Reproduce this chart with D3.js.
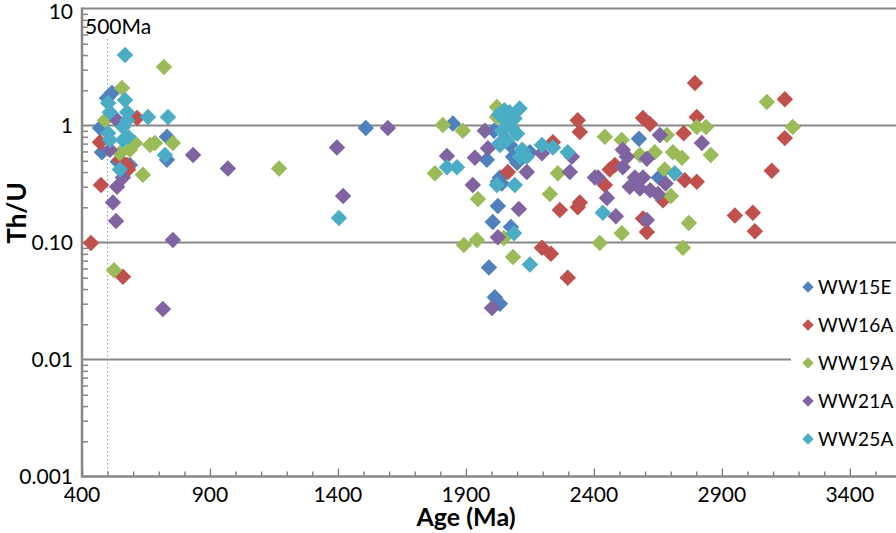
<!DOCTYPE html>
<html><head><meta charset="utf-8">
<script src="https://cdn.jsdelivr.net/npm/d3@7/dist/d3.min.js"></script>
<style>
html,body{margin:0;padding:0;background:#fff;overflow:hidden}
text{font-family:Lato,"Liberation Sans",sans-serif;fill:#000}
</style></head>
<body><svg id="c" width="896" height="533"></svg>
<script>
const seriesNames = ["WW15E","WW16A","WW19A","WW21A","WW25A"];
const seriesColors = ["#4F81BD","#C0504D","#9BBB59","#8064A2","#4BACC6"];
const xTicks = [400,900,1400,1900,2400,2900,3400];
const yTicks = [10,1,0.1,0.01,0.001];
const yTickLabels = ["10","1","0.10","0.01","0.001"];

const ww15e = [[498,1.72],[517,1.90],[470,0.95],[478,0.59],[732,0.80],[732,0.51],[587,0.46],[540,0.49],
 [1509,0.95],[1849,1.04],[1982,0.51],[2033,0.36],[2025,0.205],[2005,0.15],[2076,0.136],[1990,0.061],
 [2013,0.034],[2033,0.030],[2576,0.77],[2654,0.36],[2084,0.54],[2025,0.33],[2150,0.59],[2072,0.68],
 [2010,0.9],[2100,0.48],[2040,0.32]];
const ww16a = [[435,0.099],[474,0.31],[470,0.72],[615,1.16],[548,0.51],[580,0.42],[560,0.051],[576,0.46],
 [2064,0.40],[2240,0.72],[2337,1.11],[2345,0.88],[2197,0.09],[2232,0.08],[2298,0.05],[2267,0.19],
 [2345,0.22],[2337,0.20],[2795,2.31],[3146,1.68],[3146,0.78],[3095,0.41],[2592,1.16],[2619,1.03],
 [2751,0.86],[2802,1.18],[2462,0.42],[2482,0.46],[2755,0.34],[2802,0.33],[2443,0.31],[2670,0.23],
 [2592,0.16],[2607,0.123],[2951,0.17],[3021,0.18],[3029,0.125]];
const ww19a = [[720,3.16],[556,2.09],[490,1.11],[755,0.71],[666,0.68],[685,0.71],[607,0.71],[638,0.38],
 [548,0.58],[587,0.62],[525,0.058],[1170,0.43],[1810,1.01],[1888,0.90],[2021,1.44],[2021,1.18],
 [1779,0.39],[2259,0.39],[1947,0.235],[1892,0.095],[1943,0.105],[2048,0.109],[2084,0.075],[2228,0.26],
 [3076,1.59],[3177,0.97],[2443,0.80],[2509,0.75],[2685,0.83],[2802,0.97],[2838,0.97],[2857,0.56],
 [2638,0.59],[2709,0.59],[2744,0.53],[2580,0.56],[2677,0.42],[2701,0.25],[2509,0.12],[2423,0.099],
 [2771,0.147],[2748,0.09]];
const ww21a = [[509,0.62],[537,0.30],[560,0.36],[521,0.22],[533,0.153],[755,0.105],[716,0.027],[834,0.56],
 [970,0.43],[537,1.11],[1396,0.65],[1420,0.25],[1595,0.95],[1974,0.90],[1826,0.55],[1935,0.53],[1986,0.64],
 [2138,0.40],[2197,0.58],[2314,0.54],[2306,0.40],[2404,0.36],[1927,0.31],[2107,0.193],[2025,0.111],
 [2002,0.0275],[2822,0.71],[2658,0.83],[2513,0.62],[2529,0.54],[2607,0.52],[2513,0.44],[2416,0.36],
 [2560,0.36],[2592,0.36],[2451,0.24],[2486,0.168],[2607,0.156],[2540,0.30],[2580,0.29],[2620,0.28],
 [2650,0.26],[2680,0.32]];
const ww25a = [[568,4.0],[502,1.56],[509,1.30],[568,1.65],[576,1.30],[576,1.11],[658,1.18],[736,1.18],
 [502,0.86],[509,0.75],[560,0.97],[580,0.80],[560,0.75],[724,0.56],[548,0.42],[1404,0.162],[1826,0.44],
 [1865,0.44],[2030,1.25],[2050,1.35],[2070,1.30],[2090,1.15],[2110,1.40],[2060,1.05],[2080,0.95],
 [2040,0.90],[2100,0.85],[2060,0.75],[2030,0.70],[2120,0.62],[2111,0.54],[2138,0.54],[2033,0.68],
 [2197,0.68],[2240,0.65],[2298,0.59],[2088,0.12],[2150,0.065],[2021,0.31],[2091,0.31],[2716,0.39],[2435,0.18]];
const allSeries = [ww15e, ww16a, ww19a, ww21a, ww25a];

const svg = d3.select("#c");
const x = d3.scaleLinear().domain([400,3600]).range([82,901]);
const y = d3.scaleLog().domain([0.001,10]).range([476.5,8.5]);
const axisColor = "#878787";

// gridlines
svg.append("g").selectAll("line").data([10,1,0.1,0.01]).join("line")
  .attr("x1",x(400)).attr("x2",896).attr("y1",d=>y(d)).attr("y2",d=>y(d))
  .attr("stroke",axisColor).attr("stroke-width",2);

// 500 Ma line
svg.append("line").attr("x1",x(500)).attr("x2",x(500)).attr("y1",39).attr("y2",y(0.001))
  .attr("stroke","#999").attr("stroke-width",1).attr("stroke-dasharray","1.5,2.5");
svg.append("text").attr("x",85).attr("y",34).attr("font-size",21).text("500Ma");

// y axis (ticks inside)
const yAxis = d3.axisRight(y).tickValues(
  d3.range(-3,1).flatMap(e => d3.range(2,10).map(m => m*Math.pow(10,e)))
).tickSize(6).tickFormat("");
const ga = svg.append("g").attr("transform",`translate(${x(400)},0)`).call(yAxis);
ga.select(".domain").remove();
ga.selectAll("line").attr("stroke",axisColor).attr("stroke-width",1.5);
svg.append("line").attr("x1",x(400)).attr("x2",x(400)).attr("y1",y(10)-1).attr("y2",y(0.001)+1)
  .attr("stroke",axisColor).attr("stroke-width",2.5);
svg.append("g").selectAll("text").data(yTicks).join("text")
  .attr("x",73).attr("y",d=>Math.max(y(d)+7,19)).attr("text-anchor","end").attr("font-size",21)
  .text((d,i)=>yTickLabels[i]);

// x axis
const xMinor = d3.range(400,3700,100);
const gx = svg.append("g").attr("transform",`translate(0,${y(0.001)})`)
  .call(d3.axisTop(x).tickValues(xMinor).tickSize(5).tickFormat(""));
gx.select(".domain").remove();
gx.selectAll("line").attr("stroke",axisColor).attr("stroke-width",1.5)
  .attr("y2",d=>xTicks.includes(d)?-8:-5);
svg.append("line").attr("x1",x(400)).attr("x2",896).attr("y1",y(0.001)).attr("y2",y(0.001))
  .attr("stroke",axisColor).attr("stroke-width",2.5);
svg.append("g").selectAll("text").data(xTicks).join("text")
  .attr("x",d=>x(d)).attr("y",502).attr("text-anchor","middle").attr("font-size",21).text(d=>d);

// axis titles
svg.append("text").attr("x",466).attr("y",526).attr("text-anchor","middle")
  .attr("font-size",25).attr("font-weight","bold").text("Age (Ma)");
svg.append("text").attr("transform","translate(26,213) rotate(-90)").attr("text-anchor","middle")
  .attr("font-size",26).attr("font-weight","bold").text("Th/U");

// points
const sym = d3.symbol().type(d3.symbolSquare).size(136);
allSeries.forEach((data,i)=>{
  svg.append("g").selectAll("path").data(data).join("path")
    .attr("d",sym).attr("fill",seriesColors[i])
    .attr("transform",d=>`translate(${x(d[0])},${y(d[1])}) rotate(45)`);
});

// legend
svg.append("rect").attr("x",791).attr("y",266).attr("width",105).attr("height",192).attr("fill","#fff");
const lg = svg.append("g").selectAll("g").data(seriesNames).join("g")
  .attr("transform",(d,i)=>`translate(808,${287+i*38})`);
lg.append("path").attr("d",d3.symbol().type(d3.symbolSquare).size(64)).attr("transform","rotate(45)")
  .attr("fill",(d,i)=>seriesColors[i]);
lg.append("text").attr("x",10).attr("y",7).attr("font-size",19).attr("letter-spacing",0.3).text(d=>d);
</script></body></html>
